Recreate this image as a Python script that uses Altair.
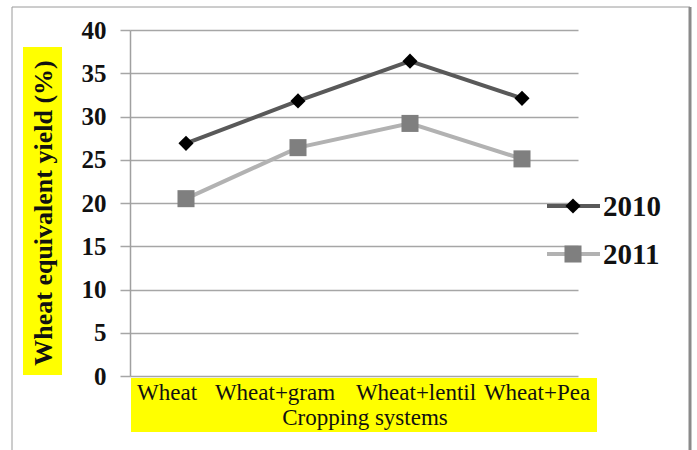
import altair as alt
import pandas as pd

# Cropping systems and wheat equivalent yield (%) per season
systems = ["Wheat", "Wheat+gram", "Wheat+lentil", "Wheat+Pea"]
yield_2010 = [26.9, 31.8, 36.4, 32.1]
yield_2011 = [20.5, 26.4, 29.2, 25.1]
years = ["2010", "2011"]
y_ticks = [0, 5, 10, 15, 20, 25, 30, 35, 40]

rows = []
for s, v in zip(systems, yield_2010):
    rows.append({"system": s, "year": "2010", "value": v})
for s, v in zip(systems, yield_2011):
    rows.append({"system": s, "year": "2011", "value": v})
df = pd.DataFrame(rows)
cats = pd.DataFrame({"system": systems})

SERIF = "Times New Roman, Liberation Serif, serif"
W, H = 448, 346
one = pd.DataFrame({"k": [0]})

x_scale = alt.Scale(domain=systems)
x_enc = alt.X("system:N", sort=systems, scale=x_scale, axis=None)
y_enc = alt.Y(
    "value:Q",
    scale=alt.Scale(domain=[0, 40], nice=False),
    title=None,
    axis=alt.Axis(
        values=y_ticks,
        domain=True,
        domainColor="#a0a0a0",
        domainWidth=1.5,
        tickColor="#a6a6a6",
        tickSize=10,
        tickWidth=1.5,
        gridColor="#a6a6a6",
        gridWidth=1.5,
        labelFont=SERIF,
        labelFontSize=25,
        labelFontWeight="bold",
        labelColor="#111111",
        labelPadding=14,
    ),
)

# Yellow highlight boxes behind the axis text
x_box = alt.Chart(one).mark_rect(color="#ffff00").encode(
    x=alt.value(1), x2=alt.value(467), y=alt.value(348), y2=alt.value(402)
)
y_box = alt.Chart(one).mark_rect(color="#ffff00").encode(
    x=alt.value(-107), x2=alt.value(-68), y=alt.value(17), y2=alt.value(345)
)
y_title = alt.Chart(one).mark_text(
    text="Wheat equivalent yield (%)",
    angle=270,
    font=SERIF,
    fontSize=26,
    fontWeight="bold",
    color="#111111",
    baseline="middle",
    align="center",
).encode(x=alt.value(-86), y=alt.value(183))

# Category labels under the plot, nudged the way the spreadsheet spaced them
label_dx = {"Wheat": -19, "Wheat+gram": -23, "Wheat+lentil": 6, "Wheat+Pea": 15}
x_labels = [
    alt.Chart(cats)
    .transform_filter(alt.datum.system == s)
    .mark_text(font=SERIF, fontSize=23, color="#111111", baseline="middle", dx=label_dx[s])
    .encode(x=x_enc, y=alt.value(363), text="system:N")
    for s in systems
]
x_title = alt.Chart(one).mark_text(
    text="Cropping systems", font=SERIF, fontSize=23, color="#111111", baseline="middle"
).encode(x=alt.value(235), y=alt.value(388))

# Outer frame
frame = alt.Chart(one).mark_rect(fill=None, stroke="#9a9a9a", strokeWidth=1).encode(
    x=alt.value(-118), x2=alt.value(560), y=alt.value(-23), y2=alt.value(440)
)
frame_right = alt.Chart(one).mark_rule(color="#8a8a8a", strokeWidth=3).encode(
    x=alt.value(560), y=alt.value(-23), y2=alt.value(440)
)

base = alt.Chart(df).encode(x=x_enc, y=y_enc)

line10 = base.transform_filter(alt.datum.year == "2010").mark_line(
    color="#595959", strokeWidth=4
)
line11 = base.transform_filter(alt.datum.year == "2011").mark_line(
    color="#b2b2b2", strokeWidth=4
)
pts10 = base.transform_filter(alt.datum.year == "2010").mark_point(
    shape="diamond", filled=True, color="#000000", size=230, opacity=1
)
pts11 = base.transform_filter(alt.datum.year == "2011").mark_point(
    shape="square", filled=True, color="#7f7f7f", size=290, opacity=1
)

# Legend entries: line swatch, marker and label
leg_y = {"2010": 176, "2011": 224}
leg_line_color = {"2010": "#595959", "2011": "#b2b2b2"}
leg_marker = {"2010": ("diamond", "#000000", 230), "2011": ("square", "#7f7f7f", 290)}
legend_layers = []
for yr in years:
    ld = pd.DataFrame({"label": [yr]})
    yy = leg_y[yr]
    shp, col, sz = leg_marker[yr]
    legend_layers.append(
        alt.Chart(ld).mark_rule(color=leg_line_color[yr], strokeWidth=4).encode(
            x=alt.value(417), x2=alt.value(470), y=alt.value(yy)
        )
    )
    legend_layers.append(
        alt.Chart(ld).mark_point(shape=shp, filled=True, color=col, size=sz, opacity=1).encode(
            x=alt.value(443), y=alt.value(yy)
        )
    )
    legend_layers.append(
        alt.Chart(ld).mark_text(
            font=SERIF, fontSize=29, fontWeight="bold", color="#111111",
            align="left", baseline="middle"
        ).encode(x=alt.value(473), y=alt.value(yy + 1), text="label:N")
    )

chart = alt.layer(
    x_box, y_box, y_title, *x_labels, x_title,
    line10, line11, pts10, pts11, *legend_layers, frame, frame_right
).properties(
    width=W,
    height=H,
    autosize=alt.AutoSizeParams(type="none"),
    padding={"left": 130, "top": 30, "right": 119, "bottom": 74},
    background="#ffffff",
).configure_view(stroke=None)

chart.save("out.html", embed_options={"renderer": "svg", "actions": False})
